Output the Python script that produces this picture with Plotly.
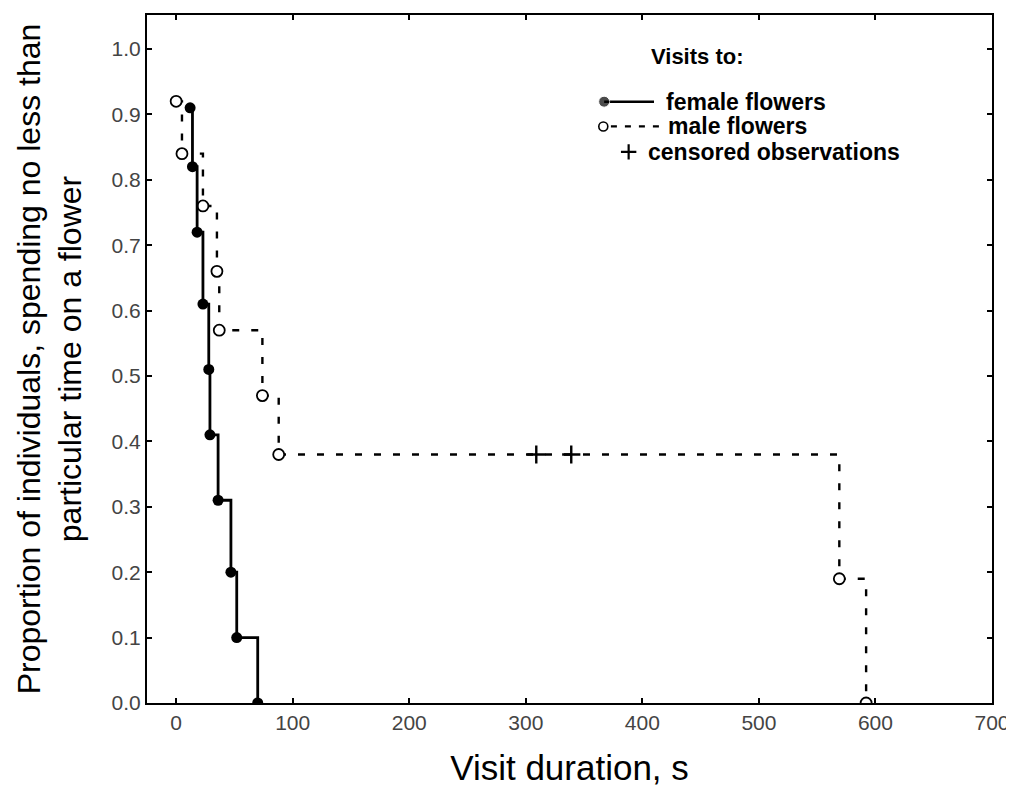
import plotly.graph_objects as go

# ---- data ----
female_t = [12, 14, 18, 23, 28, 29, 36, 47, 52, 70]
female_s = [0.91, 0.82, 0.72, 0.61, 0.51, 0.41, 0.31, 0.20, 0.10, 0.0]

male_t = [0, 5, 23, 35, 37, 74, 88, 569, 592]
male_s = [0.92, 0.84, 0.76, 0.66, 0.57, 0.47, 0.38, 0.19, 0.0]

censored_t = [309, 339]
censored_s = [0.38, 0.38]

x_ticks = [0, 100, 200, 300, 400, 500, 600, 700]
y_ticks = [0.0, 0.1, 0.2, 0.3, 0.4, 0.5, 0.6, 0.7, 0.8, 0.9, 1.0]

legend_title = "Visits to:"
legend_labels = ["female flowers", "male flowers", "censored observations"]

FONT = "Liberation Sans, Arial, sans-serif"

fig = go.Figure()

fig.add_trace(go.Scatter(
    x=male_t, y=male_s, mode="lines+markers", line_shape="hv",
    line=dict(color="black", width=2.4, dash="7px,12px"),
    marker=dict(symbol="circle", size=11, color="white",
                line=dict(color="black", width=1.8)),
    showlegend=False))

fig.add_trace(go.Scatter(
    x=female_t, y=female_s, mode="lines+markers", line_shape="hv",
    line=dict(color="black", width=2.8),
    marker=dict(symbol="circle", size=11, color="black"),
    showlegend=False))

fig.add_trace(go.Scatter(
    x=censored_t, y=censored_s, mode="markers",
    marker=dict(symbol="cross-thin", size=13,
                line=dict(color="black", width=2.4)),
    showlegend=False))

# ---- hand-drawn legend on an overlay axis in plot-area fractions ----
lg_y = [0.874, 0.838, 0.801]
fig.add_trace(go.Scatter(
    x=[0.541, 0.600], y=[lg_y[0], lg_y[0]], mode="lines+markers",
    line=dict(color="black", width=2.4),
    marker=dict(size=[11, 0], color="black"),
    xaxis="x2", yaxis="y2", showlegend=False))
fig.add_trace(go.Scatter(
    x=[0.549, 0.606], y=[lg_y[1], lg_y[1]], mode="lines",
    line=dict(color="black", width=2.2, dash="6px,8px"),
    xaxis="x2", yaxis="y2", showlegend=False))
fig.add_trace(go.Scatter(
    x=[0.540], y=[lg_y[1]], mode="markers",
    marker=dict(size=9, color="white", line=dict(color="black", width=1.6)),
    xaxis="x2", yaxis="y2", showlegend=False))
fig.add_trace(go.Scatter(
    x=[0.570], y=[lg_y[2]], mode="markers",
    marker=dict(symbol="cross-thin", size=11, line=dict(color="black", width=2.2)),
    xaxis="x2", yaxis="y2", showlegend=False))

annos = [
    dict(x=0.651, y=0.939, text="<b>" + legend_title + "</b>", xanchor="center", size=22),
    dict(x=0.612, y=lg_y[0], text="<b>" + legend_labels[0] + "</b>", xanchor="left", size=23),
    dict(x=0.614, y=lg_y[1], text="<b>" + legend_labels[1] + "</b>", xanchor="left", size=23),
    dict(x=0.591, y=lg_y[2], text="<b>" + legend_labels[2] + "</b>", xanchor="left", size=23),
]
for a in annos:
    sz = a.pop("size")
    fig.add_annotation(xref="paper", yref="paper", yanchor="middle",
                       showarrow=False, font=dict(family=FONT, size=sz, color="black"), **a)

axis_common = dict(showline=True, linecolor="black", linewidth=2, mirror="ticks",
                   ticks="inside", ticklen=5, tickwidth=2, tickcolor="black",
                   showgrid=False, zeroline=False, automargin=False,
                   tickfont=dict(family=FONT, size=21, color="#444"))

# the page body has an 8px margin; figure size / margins compensate for it
fig.update_layout(
    width=1006, height=779,
    margin=dict(l=139, r=22, t=7, b=84),
    paper_bgcolor="white", plot_bgcolor="white",
    xaxis=dict(range=[-25, 700], tickvals=x_ticks,
               title=dict(text="Visit duration, s",
                          font=dict(family=FONT, size=35, color="black"), standoff=34),
               **axis_common),
    yaxis=dict(range=[0, 1.052], tickvals=y_ticks, tickformat=".1f",
               title=dict(text="Proportion of individuals, spending no less than<br>particular time on a flower",
                          font=dict(family=FONT, size=32, color="black"), standoff=20),
               **axis_common),
    xaxis2=dict(range=[0, 1], overlaying="x", anchor="y2", visible=False),
    yaxis2=dict(range=[0, 1], overlaying="y", anchor="x2", visible=False),
)

fig.write_html("out.html")
